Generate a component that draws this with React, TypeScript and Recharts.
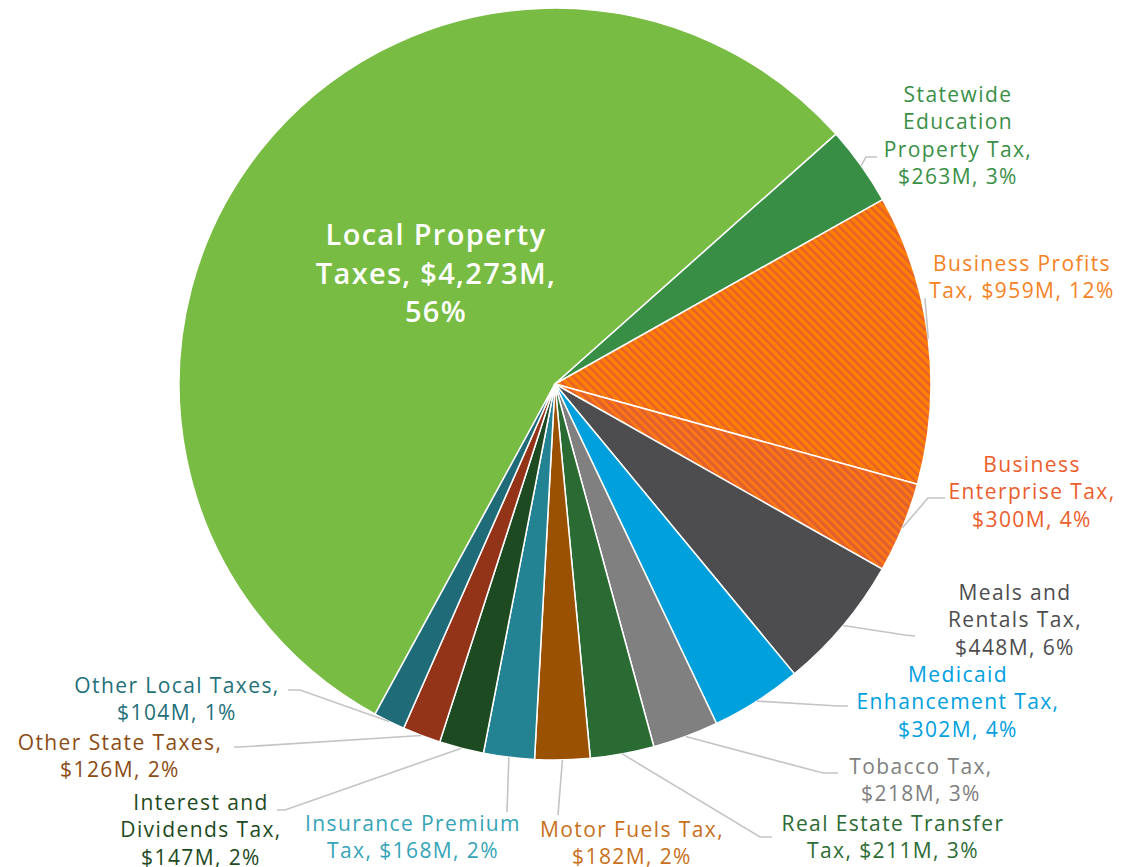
import { PieChart, Pie, Cell } from "recharts";

const names = [
  "Local Property Taxes",
  "Statewide Education Property Tax",
  "Business Profits Tax",
  "Business Enterprise Tax",
  "Meals and Rentals Tax",
  "Medicaid Enhancement Tax",
  "Tobacco Tax",
  "Real Estate Transfer Tax",
  "Motor Fuels Tax",
  "Insurance Premium Tax",
  "Interest and Dividends Tax",
  "Other State Taxes",
  "Other Local Taxes",
];
const amounts = [4273, 263, 959, 300, 448, 302, 218, 211, 182, 168, 147, 126, 104];
const percents = [56, 3, 12, 4, 6, 4, 3, 3, 2, 2, 2, 2, 1];

// label text, broken the way the original breaks it
const labelLines = [
  ["Local Property", "Taxes, $4,273M,", "56%"],
  ["Statewide", "Education", "Property Tax,", "$263M, 3%"],
  ["Business Profits", "Tax, $959M, 12%"],
  ["Business", "Enterprise Tax,", "$300M, 4%"],
  ["Meals and", "Rentals Tax,", "$448M, 6%"],
  ["Medicaid", "Enhancement Tax,", "$302M, 4%"],
  ["Tobacco Tax,", "$218M, 3%"],
  ["Real Estate Transfer", "Tax, $211M, 3%"],
  ["Motor Fuels Tax,", "$182M, 2%"],
  ["Insurance Premium", "Tax, $168M, 2%"],
  ["Interest and", "Dividends Tax,", "$147M, 2%"],
  ["Other State Taxes,", "$126M, 2%"],
  ["Other Local Taxes,", "$104M, 1%"],
];

const sliceColors = [
  "#78BC43", "#388E45", "url(#hatchProfits)", "url(#hatchEnterprise)", "#4D4D4F",
  "#00A0DC", "#808080", "#2A6B33", "#9A5202", "#248393", "#1E4A22", "#933318", "#1F6C78",
];
const labelColors = [
  "#FFFFFF", "#3A8F47", "#F5821F", "#EB5E2B", "#4D4D4F",
  "#00A0DF", "#808080", "#2D6B35", "#C8701A", "#35A4B8", "#1E4A22", "#8B4C14", "#23707A",
];

// label anchor (centre of first line) and leader bend points
const labelLayout = [
  { x: 436, y: 233, leader: [] },
  { x: 958, y: 94, leader: [[866, 157], [877, 157]] },
  { x: 1022, y: 263, leader: [[925, 298]] },
  { x: 1032, y: 464, leader: [[928, 498], [945, 498]] },
  { x: 1015, y: 592, leader: [[905, 635], [915, 636]] },
  { x: 958, y: 674, leader: [[838, 706], [848, 706]] },
  { x: 921, y: 766, leader: [[823, 773], [838, 773]] },
  { x: 893, y: 823, leader: [[760, 837], [772, 837]] },
  { x: 632, y: 829, leader: [[558, 815]] },
  { x: 413, y: 823, leader: [[507, 812]] },
  { x: 201, y: 802, leader: [[285, 810], [277, 810]] },
  { x: 120, y: 742, leader: [[240, 747], [234, 747]] },
  { x: 177, y: 685, leader: [[300, 690], [288, 690]] },
];

const data = names.map((name, i) => ({ name, amount: amounts[i], pct: percents[i] }));

const FONT = "'Open Sans', 'Noto Sans', sans-serif";

function renderLabel(props: any) {
  const { cx, cy, midAngle, outerRadius, index } = props;
  const lay = labelLayout[index];
  const lines = labelLines[index];
  if (index === 0) {
    return (
      <text fill="#FFFFFF" fontFamily={FONT} fontSize={29} fontWeight={600} letterSpacing={1.3} textAnchor="middle" dominantBaseline="central">
        {lines.map((l, i) => (
          <tspan key={i} x={lay.x} y={lay.y + i * 38.5}>{l}</tspan>
        ))}
      </text>
    );
  }
  const rad = (-midAngle * Math.PI) / 180;
  const sx = cx + outerRadius * Math.cos(rad);
  const sy = cy + outerRadius * Math.sin(rad);
  const pts = [[sx, sy], ...lay.leader].map((p) => p.join(",")).join(" ");
  return (
    <g>
      <polyline points={pts} fill="none" stroke="#C4C4C4" strokeWidth={1.6} />
      <text fill={labelColors[index]} fontFamily={FONT} fontSize={21} letterSpacing={1.4} textAnchor="middle" dominantBaseline="central">
        {lines.map((l, i) => (
          <tspan key={i} x={lay.x} y={lay.y + i * 27.3}>{l}</tspan>
        ))}
      </text>
    </g>
  );
}

export default function App() {
  return (
    <div style={{ position: "absolute", left: 0, top: 0, width: 1125, height: 867, background: "#FFFFFF" }}>
      <PieChart width={1125} height={867} margin={{ top: 0, right: 0, bottom: 0, left: 0 }}>
        <defs>
          <pattern id="hatchProfits" patternUnits="userSpaceOnUse" width={6} height={6} patternTransform="rotate(-45)">
            <rect width={6} height={6} fill="#FF8000" />
            <rect width={2.4} height={6} fill="#E5602C" />
          </pattern>
          <pattern id="hatchEnterprise" patternUnits="userSpaceOnUse" width={6} height={6} patternTransform="rotate(-45)">
            <rect width={6} height={6} fill="#FF7A10" />
            <rect width={3.4} height={6} fill="#E2602E" />
          </pattern>
        </defs>
        <Pie
          data={data}
          dataKey="amount"
          nameKey="name"
          cx={555}
          cy={384}
          outerRadius={376}
          startAngle={241.4}
          endAngle={-118.6}
          stroke="#FFFFFF"
          strokeWidth={1.5}
          label={renderLabel}
          labelLine={false}
          isAnimationActive={false}
        >
          {data.map((d, i) => (
            <Cell key={d.name} fill={sliceColors[i]} />
          ))}
        </Pie>
      </PieChart>
    </div>
  );
}
